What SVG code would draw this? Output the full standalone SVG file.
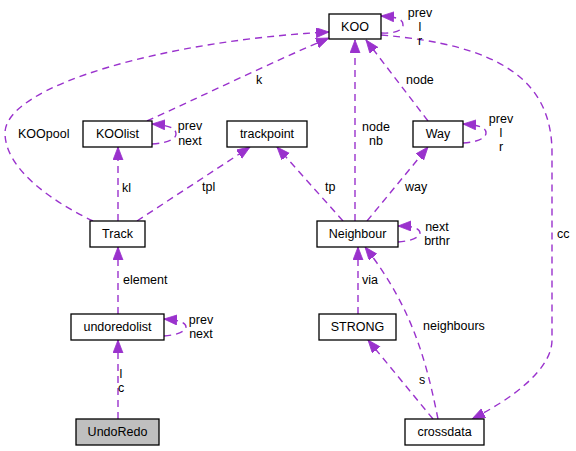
<svg xmlns="http://www.w3.org/2000/svg" width="576" height="451" viewBox="0 0 576 451">
<style>
.node rect{fill:#ffffff;stroke:#000000;stroke-width:1.3}
.node.cur rect{fill:#bfbfbf}
text{font-family:"Liberation Sans",Arial,sans-serif;font-size:12.5px;fill:#000000}
.node text{text-anchor:middle}
.edge{fill:none;stroke:#9a32cd;stroke-width:1.4;stroke-dasharray:7,5;marker-end:url(#ah)}
.m{text-anchor:middle}
</style>
<defs>
<marker id="ah" markerUnits="userSpaceOnUse" markerWidth="14" markerHeight="11" refX="13" refY="5" orient="auto">
<path d="M0,0 L13,5 L0,10 z" fill="#9a32cd" stroke="#9a32cd" stroke-width="0.8"/>
</marker>
</defs>
<g id="connectors">
<path class="edge" d="M93,221 C55,203 5,170 5,133 C5,85 170,40 329,32"/>
<path class="edge" d="M147,121 C200,97 270,63 329,38"/>
<path class="edge" d="M428,121 L366,40"/>
<path class="edge" d="M355,221 L355,40"/>
<path class="edge" d="M381,33 C395,34 403,30 403,25 C403,19 397,17 381,16"/>
<path class="edge" d="M381,35 C500,45 552,80 552,153 L552,340 C552,370 510,400 472,419"/>
<path class="edge" d="M152,144 C168,143 176,139 176,134 C176,128 168,125 152,124"/>
<path class="edge" d="M118,221 L118,147"/>
<path class="edge" d="M137,221 L250,147"/>
<path class="edge" d="M343,221 L277,147"/>
<path class="edge" d="M367,221 L428,147"/>
<path class="edge" d="M463,143 C478,142 486,138 486,133 C486,127 478,125 463,124"/>
<path class="edge" d="M398,242 C412,241 420,237 420,233 C420,228 412,226 398,226"/>
<path class="edge" d="M358,314 L358,247"/>
<path class="edge" d="M438,419 C428,370 415,310 365,247"/>
<path class="edge" d="M433,419 L368,340"/>
<path class="edge" d="M118,314 L118,247"/>
<path class="edge" d="M164,336 C178,335 186,331 186,327 C186,322 178,320 164,319"/>
<path class="edge" d="M118,419 L118,340"/>
<text x="420" y="17" class="m">prev</text>
<text x="420" y="31" class="m">l</text>
<text x="420" y="45" class="m">r</text>
<text x="406" y="84">node</text>
<text x="376" y="131" class="m">node</text>
<text x="376" y="145" class="m">nb</text>
<text x="18" y="138">KOOpool</text>
<text x="256" y="84">k</text>
<text x="190" y="130" class="m">prev</text>
<text x="190" y="145" class="m">next</text>
<text x="122" y="192">kl</text>
<text x="202" y="191">tpl</text>
<text x="325" y="191">tp</text>
<text x="405" y="191">way</text>
<text x="501" y="123" class="m">prev</text>
<text x="501" y="137" class="m">l</text>
<text x="501" y="151" class="m">r</text>
<text x="437" y="231" class="m">next</text>
<text x="437" y="245" class="m">brthr</text>
<text x="557" y="238">cc</text>
<text x="362" y="284">via</text>
<text x="423" y="330">neighbours</text>
<text x="419" y="384">s</text>
<text x="123" y="284">element</text>
<text x="201" y="324" class="m">prev</text>
<text x="201" y="338" class="m">next</text>
<text x="121" y="378" class="m">l</text>
<text x="121" y="392" class="m">c</text>
</g>
<g id="KOO" class="node"><rect x="329" y="14" width="52" height="25"/><text x="355" y="31">KOO</text></g>
<g id="KOOlist" class="node"><rect x="83" y="121" width="69" height="26"/><text x="117.5" y="138">KOOlist</text></g>
<g id="trackpoint" class="node"><rect x="227" y="121" width="80" height="26"/><text x="267" y="138">trackpoint</text></g>
<g id="Way" class="node"><rect x="413" y="121" width="50" height="26"/><text x="438" y="138">Way</text></g>
<g id="Track" class="node"><rect x="90" y="221" width="55" height="26"/><text x="117.5" y="238">Track</text></g>
<g id="Neighbour" class="node"><rect x="317" y="221" width="81" height="26"/><text x="357.5" y="238">Neighbour</text></g>
<g id="STRONG" class="node"><rect x="319" y="314" width="77" height="26"/><text x="357.5" y="331">STRONG</text></g>
<g id="undoredolist" class="node"><rect x="71" y="314" width="93" height="26"/><text x="117.5" y="331">undoredolist</text></g>
<g id="UndoRedo" class="node cur"><rect x="76" y="419" width="83" height="26"/><text x="117.5" y="436">UndoRedo</text></g>
<g id="crossdata" class="node"><rect x="405" y="419" width="79" height="26"/><text x="444.5" y="436">crossdata</text></g>
</svg>
